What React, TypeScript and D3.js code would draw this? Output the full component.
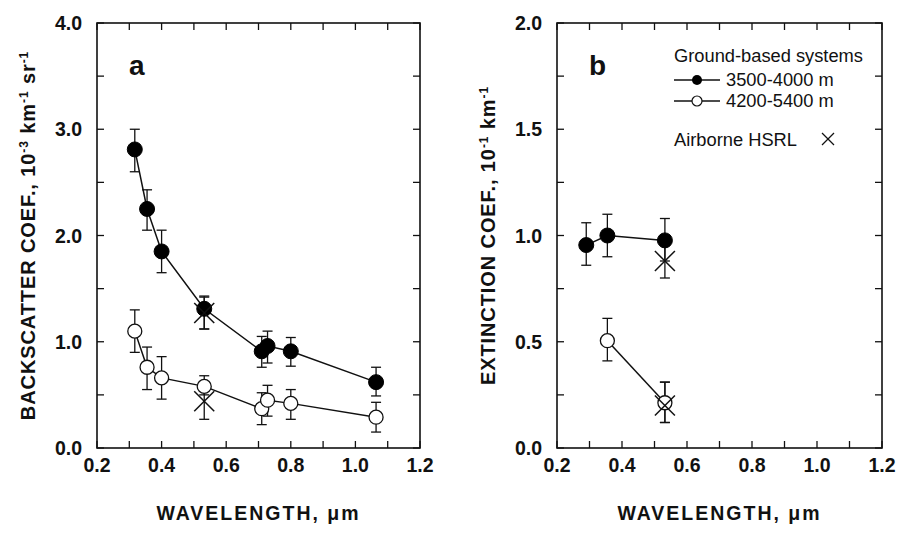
import React from "react";
import * as d3 from "d3";

const W = 897;
const H = 543;

// Panel a: backscatter
const waveA = [0.317, 0.355, 0.4, 0.532, 0.71, 0.728, 0.8, 1.064];
const backLowAlt = [2.81, 2.25, 1.85, 1.31, 0.91, 0.96, 0.91, 0.62];
const backLowAltLo = [2.6, 2.05, 1.65, 1.12, 0.76, 0.8, 0.77, 0.49];
const backLowAltHi = [3.0, 2.43, 2.05, 1.43, 1.05, 1.1, 1.04, 0.76];
const backHighAlt = [1.1, 0.76, 0.66, 0.58, 0.37, 0.45, 0.42, 0.29];
const backHighAltLo = [0.9, 0.55, 0.46, 0.5, 0.22, 0.3, 0.27, 0.15];
const backHighAltHi = [1.3, 0.95, 0.86, 0.68, 0.52, 0.59, 0.55, 0.43];
const hsrlWaveA = [0.532, 0.532];
const hsrlBack = [1.27, 0.44];
const hsrlBackLo = [1.12, 0.27];
const hsrlBackHi = [1.42, 0.58];

// Panel b: extinction
const waveBLow = [0.29, 0.355, 0.532];
const extLowAlt = [0.955, 1.0, 0.977];
const extLowAltLo = [0.86, 0.9, 0.88];
const extLowAltHi = [1.06, 1.1, 1.08];
const waveBHigh = [0.355, 0.532];
const extHighAlt = [0.505, 0.213];
const extHighAltLo = [0.41, 0.12];
const extHighAltHi = [0.61, 0.31];
const hsrlWaveB = [0.532, 0.532];
const hsrlExt = [0.88, 0.2];
const hsrlExtLo = [0.8, 0.12];
const hsrlExtHi = [0.98, 0.31];

const xTickLabels = [0.2, 0.4, 0.6, 0.8, 1.0, 1.2];
const xMinorTicks = d3.range(0.2, 1.2001, 0.1);
const yTicksA = [0, 1, 2, 3, 4];
const yMinorA = d3.range(0, 4.001, 0.5);
const yTicksB = [0, 0.5, 1.0, 1.5, 2.0];
const yMinorB = d3.range(0, 2.001, 0.25);

const FONT = "'Liberation Sans', Arial, Helvetica, sans-serif";

type Series = { x: number[]; y: number[]; lo: number[]; hi: number[] };

function Panel(props: {
  x0: number;
  x1: number;
  yTop: number;
  yBot: number;
  yMax: number;
  yTicks: number[];
  yMinor: number[];
  filled: Series;
  open: Series;
  hsrl: Series;
  letter: string;
  yTitle: React.ReactNode;
  titleX: number;
}) {
  const { x0, x1, yTop, yBot, yMax } = props;
  const xs = d3.scaleLinear().domain([0.2, 1.2]).range([x0, x1]);
  const ys = d3.scaleLinear().domain([0, yMax]).range([yBot, yTop]);
  const line = d3
    .line<[number, number]>()
    .x((d) => xs(d[0]))
    .y((d) => ys(d[1]));
  const tl = 7;
  const cap = 5;
  const errBars = (s: Series, key: string) =>
    s.x.map((xv, i) => (
      <g key={key + i} stroke="#111" strokeWidth={1.3}>
        <line x1={xs(xv)} x2={xs(xv)} y1={ys(s.lo[i])} y2={ys(s.hi[i])} />
        <line x1={xs(xv) - cap} x2={xs(xv) + cap} y1={ys(s.lo[i])} y2={ys(s.lo[i])} />
        <line x1={xs(xv) - cap} x2={xs(xv) + cap} y1={ys(s.hi[i])} y2={ys(s.hi[i])} />
      </g>
    ));
  const fmt = d3.format(".1f");
  const midX = (x0 + x1) / 2;
  return (
    <g>
      <rect x={x0} y={yTop} width={x1 - x0} height={yBot - yTop} fill="none" stroke="#111" strokeWidth={1.6} />
      {xMinorTicks.map((t, i) => (
        <g key={"xt" + i} stroke="#111" strokeWidth={1.3}>
          <line x1={xs(t)} x2={xs(t)} y1={yBot} y2={yBot - tl} />
          <line x1={xs(t)} x2={xs(t)} y1={yTop} y2={yTop + tl} />
        </g>
      ))}
      {props.yMinor.map((t, i) => (
        <g key={"yt" + i} stroke="#111" strokeWidth={1.3}>
          <line x1={x0} x2={x0 + tl} y1={ys(t)} y2={ys(t)} />
          <line x1={x1} x2={x1 - tl} y1={ys(t)} y2={ys(t)} />
        </g>
      ))}
      {xTickLabels.map((t, i) => (
        <text key={"xl" + i} x={xs(t)} y={yBot + 24} textAnchor="middle" fontFamily={FONT} fontWeight="bold" fontSize={19.5} fill="#111">
          {fmt(t)}
        </text>
      ))}
      {props.yTicks.map((t, i) => (
        <text key={"yl" + i} x={x0 - 15} y={ys(t) + 7} textAnchor="end" fontFamily={FONT} fontWeight="bold" fontSize={19.5} fill="#111">
          {fmt(t)}
        </text>
      ))}
      <text x={midX} y={yBot + 72} textAnchor="middle" fontFamily={FONT} fontWeight="bold" fontSize={19.5} letterSpacing={2} fill="#111">
        WAVELENGTH, μm
      </text>
      <text
        transform={`translate(${props.titleX},${(yTop + yBot) / 2}) rotate(-90)`}
        textAnchor="middle"
        fontFamily={FONT}
        fontWeight="bold"
        fontSize={20}
        letterSpacing={0.9}
        fill="#111"
      >
        {props.yTitle}
      </text>
      <text x={x0 + 32} y={yTop + 52} fontFamily={FONT} fontWeight="bold" fontSize={28} fill="#111">
        {props.letter}
      </text>
      <path d={line(props.filled.x.map((v, i) => [v, props.filled.y[i]]) as any) || ""} fill="none" stroke="#111" strokeWidth={1.5} />
      <path d={line(props.open.x.map((v, i) => [v, props.open.y[i]]) as any) || ""} fill="none" stroke="#111" strokeWidth={1.5} />
      {errBars(props.filled, "ef")}
      {errBars(props.open, "eo")}
      {errBars(props.hsrl, "eh")}
      {props.filled.x.map((v, i) => (
        <circle key={"f" + i} cx={xs(v)} cy={ys(props.filled.y[i])} r={7.5} fill="#000" stroke="#000" />
      ))}
      {props.open.x.map((v, i) => (
        <circle key={"o" + i} cx={xs(v)} cy={ys(props.open.y[i])} r={7} fill="#fff" stroke="#111" strokeWidth={1.3} />
      ))}
      {props.hsrl.x.map((v, i) => {
        const cx = xs(v);
        const cy = ys(props.hsrl.y[i]);
        const s = 10;
        return (
          <g key={"h" + i} stroke="#111" strokeWidth={1.5}>
            <line x1={cx - s} x2={cx + s} y1={cy - s} y2={cy + s} />
            <line x1={cx - s} x2={cx + s} y1={cy + s} y2={cy - s} />
          </g>
        );
      })}
    </g>
  );
}

export default function App() {
  const sup = (t: string) => (
    <tspan baselineShift="super" fontSize={12}>
      {t}
    </tspan>
  );
  return (
    <svg width={W} height={H} style={{ position: "absolute", left: 0, top: 0, background: "#fff" }}>
      <rect width={W} height={H} fill="#fff" />
      <Panel
        x0={97}
        x1={420}
        yTop={23}
        yBot={448}
        yMax={4}
        yTicks={yTicksA}
        yMinor={yMinorA}
        filled={{ x: waveA, y: backLowAlt, lo: backLowAltLo, hi: backLowAltHi }}
        open={{ x: waveA, y: backHighAlt, lo: backHighAltLo, hi: backHighAltHi }}
        hsrl={{ x: hsrlWaveA, y: hsrlBack, lo: hsrlBackLo, hi: hsrlBackHi }}
        letter="a"
        titleX={35}
        yTitle={
          <>
            BACKSCATTER COEF., 10{sup("-3")} km{sup("-1")} sr{sup("-1")}
          </>
        }
      />
      <Panel
        x0={557}
        x1={882}
        yTop={23}
        yBot={448}
        yMax={2}
        yTicks={yTicksB}
        yMinor={yMinorB}
        filled={{ x: waveBLow, y: extLowAlt, lo: extLowAltLo, hi: extLowAltHi }}
        open={{ x: waveBHigh, y: extHighAlt, lo: extHighAltLo, hi: extHighAltHi }}
        hsrl={{ x: hsrlWaveB, y: hsrlExt, lo: hsrlExtLo, hi: hsrlExtHi }}
        letter="b"
        titleX={495}
        yTitle={
          <>
            EXTINCTION COEF., 10{sup("-1")} km{sup("-1")}
          </>
        }
      />
      <g fontFamily={FONT} fontSize={18.3} fill="#111">
        <text x={674} y={62}>Ground-based systems</text>
        <line x1={674} x2={720} y1={80} y2={80} stroke="#111" strokeWidth={1.5} />
        <circle cx={697} cy={80} r={5} fill="#000" />
        <text x={726} y={86}>3500-4000 m</text>
        <line x1={674} x2={720} y1={101} y2={101} stroke="#111" strokeWidth={1.5} />
        <circle cx={697} cy={101} r={5} fill="#fff" stroke="#111" strokeWidth={1.2} />
        <text x={726} y={107}>4200-5400 m</text>
        <text x={674} y={146}>Airborne HSRL</text>
        <g stroke="#111" strokeWidth={1.2}>
          <line x1={822} x2={834} y1={133} y2={145} />
          <line x1={822} x2={834} y1={145} y2={133} />
        </g>
      </g>
    </svg>
  );
}
